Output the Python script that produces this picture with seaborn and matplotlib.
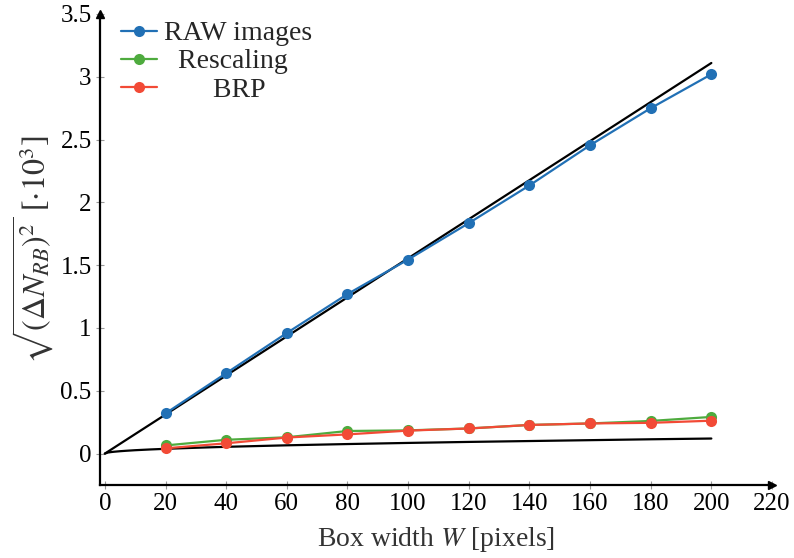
import numpy as np
import pandas as pd
import matplotlib
matplotlib.use("Agg")
import matplotlib.pyplot as plt
import seaborn as sns

# Data
box_width = [20, 40, 60, 80, 100, 120, 140, 160, 180, 200]
raw_images = [0.32, 0.64, 0.96, 1.27, 1.545, 1.835, 2.135, 2.455, 2.75, 3.02]
rescaling = [0.065, 0.11, 0.13, 0.18, 0.185, 0.20, 0.228, 0.24, 0.26, 0.292]
brp = [0.042, 0.082, 0.128, 0.153, 0.183, 0.20, 0.228, 0.24, 0.245, 0.262]

fit_raw_w = [0, 200]
fit_raw_v = [0.0, 3.11]
fit_low_w = [0, 1, 2, 3, 5, 7, 10, 15, 20, 30, 40, 60, 80, 100, 120, 140, 160, 180, 200]
fit_low_v = [0.0, 0.0085, 0.012, 0.0147, 0.019, 0.0225, 0.027, 0.033, 0.038, 0.0465,
             0.054, 0.066, 0.076, 0.085, 0.093, 0.100, 0.107, 0.114, 0.120]

series_names = ["RAW images", "Rescaling", "BRP"]
colors = ["#2170b5", "#4eab3e", "#f24a36"]

sns.set_theme(style="white")
plt.rcParams["font.family"] = ["Liberation Serif", "DejaVu Serif"]
plt.rcParams["mathtext.fontset"] = "stix"

df = pd.DataFrame({
    "W": box_width * 3,
    "value": raw_images + rescaling + brp,
    "series": [series_names[0]] * 10 + [series_names[1]] * 10 + [series_names[2]] * 10,
})

fig = plt.figure(figsize=(7.94, 5.58), dpi=100)
ax = fig.add_axes([100 / 794, 1 - 485 / 558, 672 / 794, 471 / 558])

# reference (black) lines
sns.lineplot(x=fit_raw_w, y=fit_raw_v, ax=ax, color="black", linewidth=1.6, zorder=2)
sns.lineplot(x=fit_low_w, y=fit_low_v, ax=ax, color="black", linewidth=1.6, zorder=2)

sns.lineplot(data=df, x="W", y="value", hue="series", palette=colors,
             marker="o", markersize=8, markeredgewidth=0, linewidth=1.6,
             ax=ax, zorder=3)

ax.set_xlim(-1.6, 220)
ax.set_ylim(-0.25, 3.5)
ax.set_xticks(list(range(0, 221, 20)))
ax.set_yticks([0, 0.5, 1, 1.5, 2, 2.5, 3, 3.5])
ax.set_yticklabels(["0", "0.5", "1", "1.5", "2", "2.5", "3", "3.5"])
ax.tick_params(axis="both", direction="inout", length=6, width=0.8,
               color="#999999", labelsize=18, labelcolor="black", pad=3)
ax.tick_params(axis="both", which="both", bottom=True, left=True)

for s in ["top", "right"]:
    ax.spines[s].set_visible(False)
for s in ["left", "bottom"]:
    ax.spines[s].set_color("black")
    ax.spines[s].set_linewidth(1.6)

# arrow heads
ax.plot(1, 0, ">", color="black", markersize=6, transform=ax.transAxes, clip_on=False)
ax.plot(0, 1, "^", color="black", markersize=6, transform=ax.transAxes, clip_on=False)

ax.set_xlabel("Box width $W$ [pixels]", fontsize=20, color="#333333", labelpad=7)
ax.set_ylabel(r"$\sqrt{(\Delta N_{RB})^2}$ [$\cdot 10^3$]", fontsize=23,
              color="#333333", labelpad=3)

handles, labels = ax.get_legend_handles_labels()
h = [hh for hh, ll in zip(handles, labels) if ll in series_names]
l = [ll for ll in labels if ll in series_names]
pad = {"RAW images": "RAW images", "Rescaling": "  Rescaling", "BRP": "       BRP"}
leg = ax.legend(h, [pad[x] for x in l], loc="upper left", bbox_to_anchor=(0.01, 1.015),
                frameon=False, fontsize=20, handlelength=1.3, handletextpad=0.25,
                labelspacing=0.1, borderaxespad=0.1)

fig.savefig("out.png", dpi=100)
